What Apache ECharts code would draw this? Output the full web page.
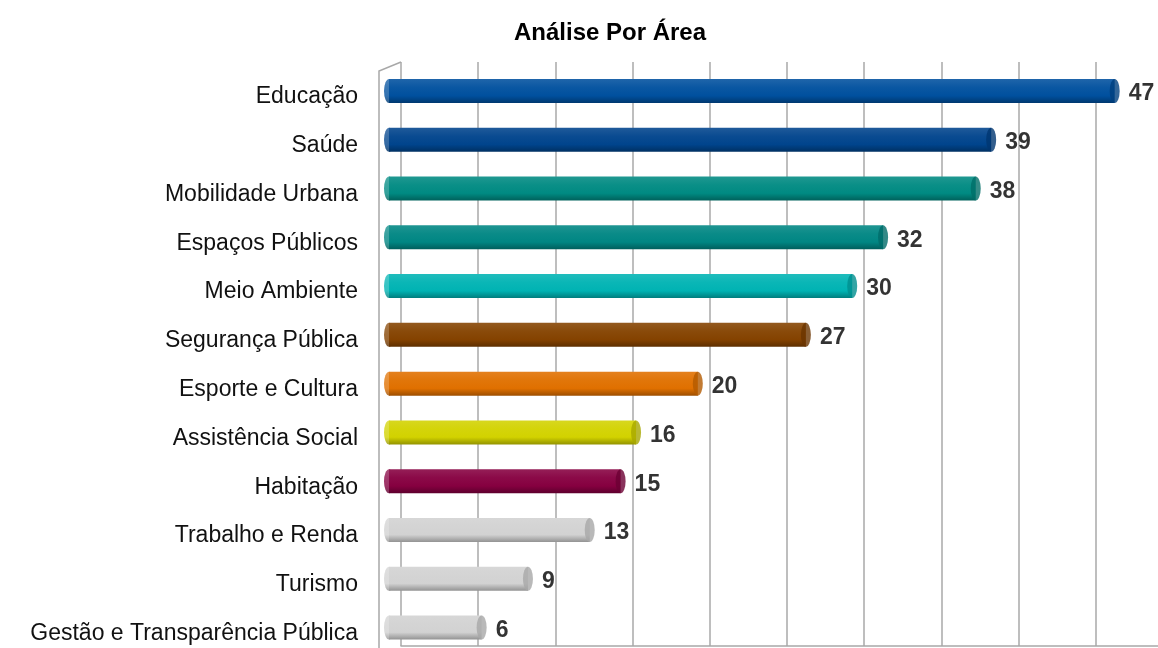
<!DOCTYPE html>
<html>
<head>
<meta charset="utf-8">
<title>Análise Por Área</title>
<script src="https://cdn.jsdelivr.net/npm/echarts@6/dist/echarts.min.js"></script>
<style>
  html, body { margin: 0; padding: 0; background: #fff; }
  #chart { width: 1158px; height: 648px; }
</style>
</head>
<body>
<div id="chart"></div>
<script>
// categorias (de cima para baixo) e quantidades
const categories = [
  "Educação", "Saúde", "Mobilidade Urbana", "Espaços Públicos", "Meio Ambiente",
  "Segurança Pública", "Esporte e Cultura", "Assistência Social", "Habitação",
  "Trabalho e Renda", "Turismo", "Gestão e Transparência Pública"
];
const values = [47, 39, 38, 32, 30, 27, 20, 16, 15, 13, 9, 6];
const tickValues = [0, 5, 10, 15, 20, 25, 30, 35, 40, 45];

// cor base de cada barra
const palette = [
  "#00509e", "#00448c", "#008a82", "#008683", "#00b3b3", "#844200",
  "#e07000", "#d2d200", "#860040", "#d2d2d2", "#d2d2d2", "#d2d2d2"
];

// escala: px por unidade
const unit = 15.44;
const axisMax = 49;

function shade(hex, f) {
  let n = parseInt(hex.slice(1), 16);
  let r = (n >> 16) & 255, g = (n >> 8) & 255, b = n & 255;
  const m = (c) => f >= 0 ? Math.round(c + (255 - c) * f) : Math.round(c * (1 + f));
  return "rgb(" + m(r) + "," + m(g) + "," + m(b) + ")";
}

// efeito cilindro: claro em cima, escuro embaixo
function cylinder(hex) {
  return new echarts.graphic.LinearGradient(0, 0, 0, 1, [
    { offset: 0, color: shade(hex, 0.12) },
    { offset: 0.35, color: shade(hex, 0.04) },
    { offset: 0.7, color: hex },
    { offset: 1, color: shade(hex, -0.3) },
  ]);
}

let myChart = echarts.init(document.getElementById("chart"));

const option = {
  animation: false,
  title: {
    text: "Análise Por Área",
    left: 605,
    top: 16,
    textAlign: "center",
    textStyle: {
      fontFamily: "Liberation Sans, Arial, sans-serif",
      fontSize: 24,
      fontWeight: "bold",
      color: "#000",
    },
  },
  graphic: [
    {
      // parede lateral esquerda
      type: "polyline",
      shape: { points: [[379, 648], [379, 71], [401, 62]] },
      style: { stroke: "#a8a8a8", lineWidth: 1.5, fill: null },
      z: 0,
    },
  ],
  grid: [
    // barras (frente)
    { left: 389, top: 91, width: unit * axisMax, height: 536.5 },
    // parede do fundo com as linhas de grade
    { left: 401, top: 62, width: unit * axisMax, height: 584 },
    // só para os rótulos das categorias (um pouco abaixo do centro das barras)
    { left: 389, top: 97, width: unit * axisMax, height: 536.5 },
  ],
  xAxis: [
    { gridIndex: 0, type: "value", min: 0, max: axisMax, interval: 5, show: false },
    {
      gridIndex: 1,
      type: "value",
      min: tickValues[0],
      max: axisMax,
      interval: 5,
      axisLabel: { show: false },
      axisTick: { show: false },
      axisLine: { show: true, lineStyle: { color: "#a8a8a8", width: 1.5 } },
      splitLine: {
        show: true,
        showMaxLine: false,
        lineStyle: { color: "#a8a8a8", width: 1.5 },
      },
    },
    { gridIndex: 2, type: "value", min: 0, max: axisMax, show: false },
  ],
  yAxis: [
    {
      gridIndex: 0,
      type: "category",
      data: categories,
      inverse: true,
      boundaryGap: false,
      show: false,
    },
    { gridIndex: 1, type: "value", show: false, splitLine: { show: false } },
    {
      gridIndex: 2,
      type: "category",
      data: categories,
      inverse: true,
      boundaryGap: false,
      axisLine: { show: false },
      axisTick: { show: false },
      splitLine: { show: false },
      axisLabel: {
        margin: 31,
        fontFamily: "Liberation Sans, Arial, sans-serif",
        fontSize: 23,
        color: "#111",
      },
    },
  ],
  series: [
    {
      // ponta esquerda arredondada
      type: "scatter",
      xAxisIndex: 0,
      yAxisIndex: 0,
      symbol: "circle",
      symbolSize: [10, 24],
      z: 2,
      data: categories.map((c, i) => ({
        value: [0, i],
        itemStyle: { color: cylinder(palette[i]) },
      })),
    },
    {
      type: "bar",
      xAxisIndex: 0,
      yAxisIndex: 0,
      barWidth: 24,
      z: 3,
      data: values.map((v, i) => ({
        value: v,
        itemStyle: { color: cylinder(palette[i]) },
      })),
    },
    {
      // tampa do cilindro + rótulo
      type: "scatter",
      xAxisIndex: 0,
      yAxisIndex: 0,
      symbol: "circle",
      symbolSize: [10, 24],
      z: 4,
      data: values.map((v, i) => ({
        value: [v, i],
        itemStyle: { color: shade(palette[i], -0.2) },
      })),
      label: {
        show: true,
        position: "right",
        distance: 9,
        offset: [0, 3],
        formatter: (p) => p.value[0],
        fontFamily: "Liberation Sans, Arial, sans-serif",
        fontSize: 23,
        fontWeight: "bold",
        color: "#000",
      },
    },
  ],
};

myChart.setOption(option, true);
</script>
</body>
</html>
